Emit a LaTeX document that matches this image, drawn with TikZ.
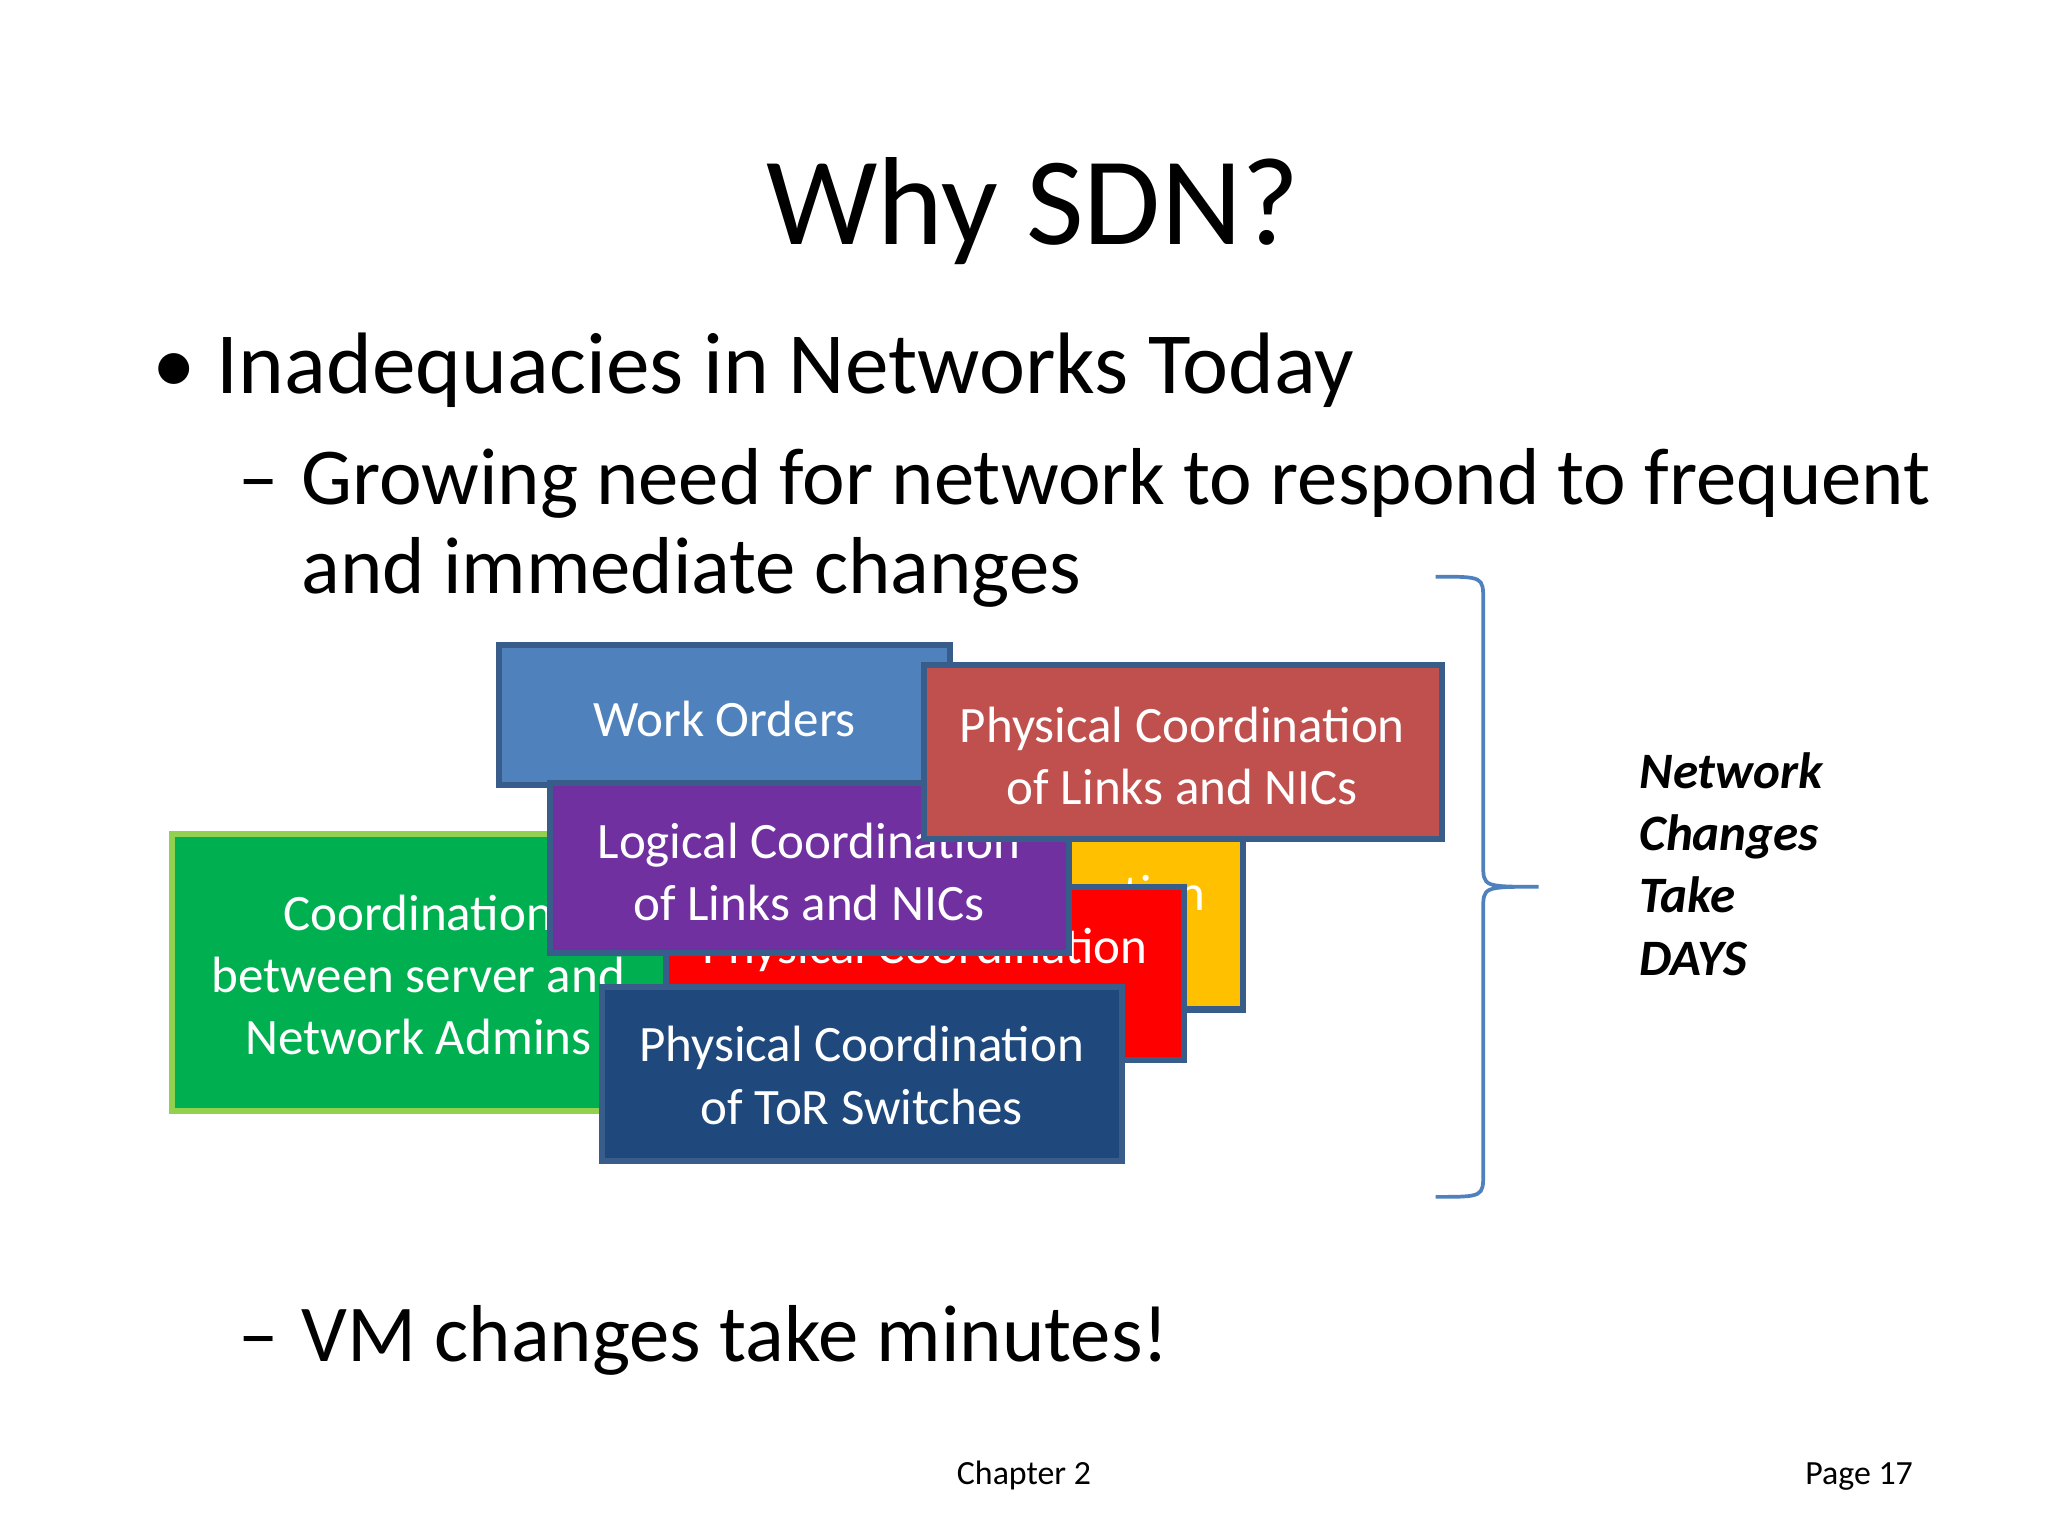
\documentclass[tikz,border=0pt]{standalone}
\usepackage{fontspec}
\setmainfont{Carlito}
\definecolor{gfill}{RGB}{0,176,80}
\definecolor{gline}{RGB}{146,208,80}
\definecolor{ofill}{RGB}{255,192,0}
\definecolor{edge}{RGB}{56,93,138}
\definecolor{navy}{RGB}{31,73,125}
\definecolor{wfill}{RGB}{79,129,189}
\definecolor{pfill}{RGB}{112,48,160}
\definecolor{brfill}{RGB}{192,80,77}
\begin{document}
\begin{tikzpicture}[x=0.01cm,y=-0.01cm,
  bx/.style={draw=edge, line width=1.3pt},
  bt/.style={text=white, font=\fontsize{11}{13.4}\selectfont, align=center}]
\useasboundingbox[fill=white] (0,0) rectangle (1552,1164);
\node[anchor=base, font=\fontsize{27}{32}\selectfont] (title) at (783,185) {Why SDN?};
\node[anchor=base west, font=\fontsize{18.8}{22}\selectfont] (b1) at (103,298) {•};
\node[anchor=base west, font=\fontsize{18.8}{22}\selectfont] (t1) at (152,298) {Inadequacies in Networks Today};
\node[anchor=base west, font=\fontsize{17.4}{21}\selectfont] (d1) at (168,382) {–};
\node[anchor=base west, font=\fontsize{17.4}{21}\selectfont] (t2) at (216,382) {Growing need for network to respond to frequent};
\node[anchor=base west, font=\fontsize{17.4}{21}\selectfont] (t3) at (216,450) {and immediate changes};
\node[anchor=base west, font=\fontsize{17.4}{21}\selectfont] (d2) at (168,1032) {–};
\node[anchor=base west, font=\fontsize{17.4}{21}\selectfont] (t4) at (216,1032) {VM changes take minutes!};
% boxes
\draw[fill=gfill, draw=gline, line width=1.3pt] (130,632) rectangle (505,842);
\node[bt] (g) at (317,739) {Coordination\\between server and\\Network Admins};
\draw[bx, fill=ofill] (550,610) rectangle (942,765);
\node[bt, anchor=base] (o) at (745,690) {Physical Coordination};
\draw[bx, fill=red] (505,672) rectangle (897,803);
\node[bt, anchor=base] (r) at (701,730) {Physical Coordination};
\draw[bx, fill=navy] (456,748) rectangle (850,880);
\node[bt] (n) at (653,815) {Physical Coordination\\of ToR Switches};
\draw[bx, fill=wfill] (378,489) rectangle (720,595);
\node[bt] (w) at (549,545) {Work Orders};
\draw[bx, fill=pfill] (417,593) rectangle (810,722);
\node[bt] (p) at (613,661) {Logical Coordination\\of Links and NICs};
\draw[bx, fill=brfill] (700,504) rectangle (1093,636);
\node[bt] (br) at (896,573) {Physical Coordination\\of Links and NICs};
% brace
\draw[draw=wfill, line width=0.8pt]
  (1088,437) .. controls (1124,437) .. (1124,455) -- (1124,655)
  .. controls (1124,672) .. (1166,672)
  (1124,689) .. controls (1124,672) .. (1166,672)
  (1124,689) -- (1124,889) .. controls (1124,907) .. (1088,907);
\node[anchor=north west, align=left, font=\fontsize{11}{13.4}\bfseries\itshape\selectfont] (nt) at (1230,558) {Network\\Changes\\Take\\DAYS};
\node[anchor=base, font=\fontsize{7.3}{9}\selectfont] (ch) at (776,1125) {Chapter 2};
\node[anchor=base east, font=\fontsize{7.3}{9}\selectfont] (pg) at (1462,1125) {Page 17};
\end{tikzpicture}
\end{document}
